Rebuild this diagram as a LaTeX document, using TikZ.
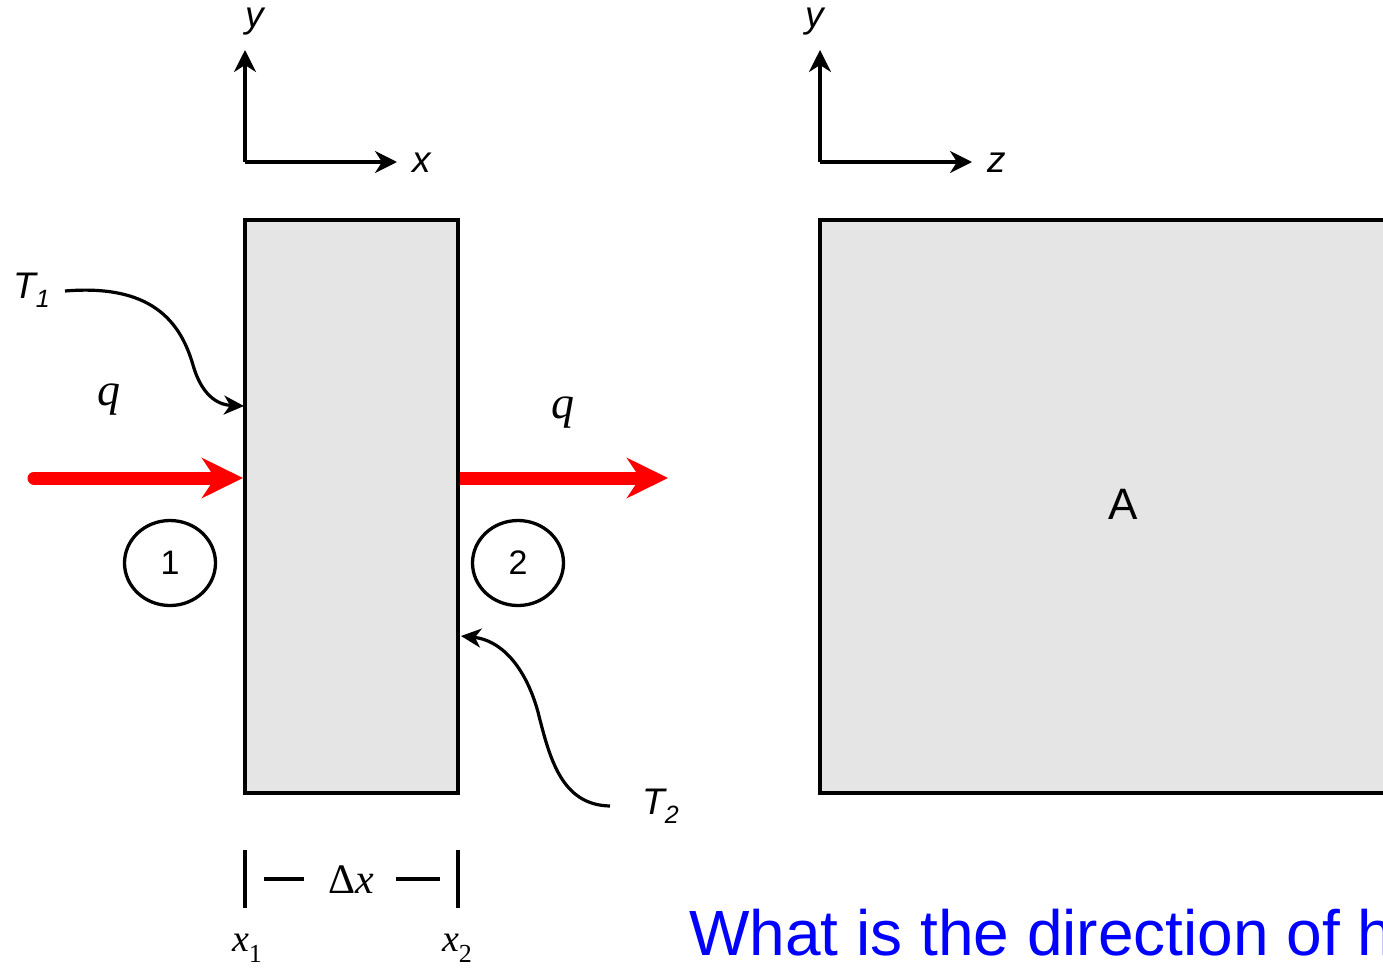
\documentclass[tikz,border=0pt]{standalone}
\usepackage{fontspec}
\setmainfont{Liberation Sans}
\newfontfamily\tms{Liberation Serif}
\usetikzlibrary{arrows.meta,shapes.geometric}
\definecolor{slab}{HTML}{E5E5E5}
\tikzset{
  axis/.style={line width=3.3pt,-{Stealth[length=22pt,width=22pt,inset=7pt]}},
  thinarr/.style={line width=3.2pt,-{Stealth[length=20pt,width=19pt,inset=6pt]}},
  heat/.style={line width=13pt,red,-{Stealth[length=41pt,width=40pt,inset=13pt]}},
  body/.style={line width=3.3pt,fill=slab,draw=black},
  lbl/.style={inner sep=0pt,font=\fontsize{37}{40}\selectfont\itshape},
  serlbl/.style={inner sep=0pt,font=\tms\fontsize{46}{48}\selectfont\itshape},
  num/.style={ellipse,draw,line width=3.3pt,minimum width=91pt,minimum height=85pt,inner sep=0pt,font=\fontsize{34}{36}\selectfont},
  dimline/.style={line width=3.5pt},
}
\begin{document}
\begin{tikzpicture}[x=1pt,y=-1pt]
\useasboundingbox (0,0) rectangle (1383,969);
\begin{scope}
\clip (0,0) rectangle (1383,969);
% left axes
\coordinate (o1) at (245,162);
\coordinate (y1) at (245,50);
\coordinate (x1) at (397,162);
\draw[axis] (o1) -- (y1);
\draw[axis] (o1) -- (x1);
\node[lbl] (ylab1) at (255,22) {y};
\node[lbl] (xlab1) at (422,163) {x};
% right axes
\coordinate (o2) at (820,162);
\coordinate (y2) at (820,50);
\coordinate (z2) at (972,162);
\draw[axis] (o2) -- (y2);
\draw[axis] (o2) -- (z2);
\node[lbl] (ylab2) at (815,22) {y};
\node[lbl] (zlab2) at (997,163) {z};
% slabs
\draw[body] (245,220) rectangle (458,793);
\draw[body] (820,220) rectangle (1400,793);
\node[inner sep=0pt,font=\fontsize{44}{46}\selectfont] (A) at (1123,504) {A};
% heat arrows
\coordinate (hs) at (34,478);
\coordinate (he) at (243,478);
\coordinate (hs2) at (460,478);
\coordinate (he2) at (668,478);
\draw[heat,line cap=round] (hs) -- (he);
\draw[heat] (hs2) -- (he2);
\node[serlbl] (q1) at (109,400) {q};
\node[serlbl] (q2) at (563,413) {q};
% circles
\node[num] (c1) at (170,563) {1};
\node[num] (c2) at (518,563) {2};
% T1
\node[lbl,anchor=west] (T1) at (13,290) {T\raisebox{-0.25em}{\fontsize{25}{25}\selectfont 1}};
\coordinate (t1a) at (65,291);
\coordinate (t1m) at (193,365);
\coordinate (t1e) at (244,406);
\draw[thinarr] (t1a) .. controls (150,284) and (180,320) .. (t1m) .. controls (203,400) and (222,405) .. (t1e);
% T2
\node[lbl,anchor=west] (T2) at (642,806) {T\raisebox{-0.25em}{\fontsize{25}{25}\selectfont 2}};
\coordinate (t2a) at (610,806);
\coordinate (t2m) at (538,712);
\coordinate (t2e) at (461,636);
\draw[thinarr] (t2a) .. controls (562,805) and (550,760) .. (t2m) .. controls (525,665) and (500,640) .. (t2e);
% dimension
\coordinate (b1t) at (245,850); \coordinate (b1b) at (245,908);
\coordinate (b2t) at (458,850); \coordinate (b2b) at (458,908);
\draw[dimline] (b1t) -- (b1b);
\draw[dimline] (b2t) -- (b2b);
\coordinate (d1a) at (264,879); \coordinate (d1b) at (304,879);
\coordinate (d2a) at (396,879); \coordinate (d2b) at (440,879);
\draw[dimline] (d1a) -- (d1b);
\draw[dimline] (d2a) -- (d2b);
\node[inner sep=0pt,font=\tms\fontsize{42}{44}\selectfont] (dx) at (351,880) {Δ\itshape x};
\node[inner sep=0pt,font=\tms\fontsize{38}{40}\selectfont] (xl1) at (247,948) {\itshape x\upshape\raisebox{-0.28em}{\fontsize{26}{26}\selectfont 1}};
\node[inner sep=0pt,font=\tms\fontsize{38}{40}\selectfont] (xl2) at (457,948) {\itshape x\upshape\raisebox{-0.28em}{\fontsize{26}{26}\selectfont 2}};
% question
\node[anchor=base west,inner sep=0pt,text=blue,font=\fontsize{64}{70}\selectfont] (qq) at (689,955) {What is the direction of h};
\end{scope}
\end{tikzpicture}
\end{document}
